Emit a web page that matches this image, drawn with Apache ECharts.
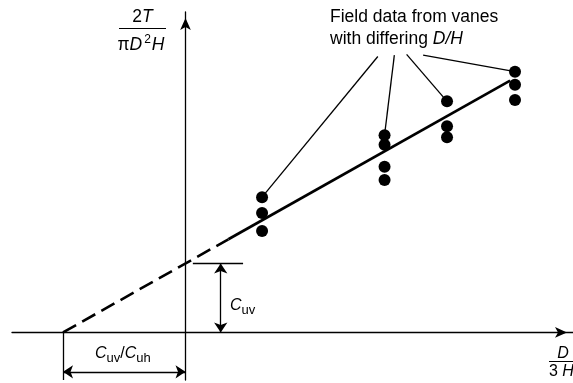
<!DOCTYPE html>
<html>
<head>
<meta charset="utf-8">
<script src="https://cdn.jsdelivr.net/npm/echarts@6/dist/echarts.min.js"></script>
<style>
html,body{margin:0;padding:0;background:#fff;}
#chart{width:573px;height:383px;}
</style>
</head>
<body>
<div id="chart"></div>
<script>
// Vane shear test: normalised torque 2T/(πD²H) against D/3H

// Fitted line: intercept on the torque axis (C_uv) and on the D/3H axis (C_uv/C_uh)
const cuv = 1.0;
const cuvOverCuh = 2.0;
// Fitted line drawn through these points (dashed extrapolation, then solid)
const fitX = [-2.0, 0.7, 5.3];
const fitY = [0.0, 1.35, 3.65];

// Field data, one group of vanes per D/H ratio
const groupX = [1.25, 3.25, 4.27, 5.38];
const groupY = [
  [1.96, 1.73, 1.47],
  [2.86, 2.72, 2.40, 2.21],
  [3.35, 2.99, 2.83],
  [3.78, 3.59, 3.37]
];

// Where the callout lines leave the annotation text
const calloutX = [3.14, 3.41, 3.61, 3.88];
const calloutY = [4.00, 4.02, 4.03, 4.02];

const FONT = '"Liberation Sans", Arial, Helvetica, sans-serif';
const INK = '#000';

const points = [];
groupX.forEach((x, i) => groupY[i].forEach(y => points.push([x, y])));

const callouts = groupX.map((x, i) => ({
  coords: [[calloutX[i], calloutY[i]], [x, Math.max.apply(null, groupY[i])]]
}));

const yBottom = -0.69;
const dimTicks = [
  { coords: [[0.12, cuv], [0.94, cuv]] },
  { coords: [[-cuvOverCuh, 0], [-cuvOverCuh, yBottom]] }
];
const dimArrows = [
  { coords: [[0.575, 0], [0.575, cuv]] },
  { coords: [[-cuvOverCuh, -0.572], [0, -0.572]] }
];

function rich(size) {
  return {
    n: { fontFamily: FONT, fontSize: size, fill: INK, lineHeight: 22 },
    i: { fontFamily: FONT, fontSize: size, fontStyle: 'italic', fill: INK, lineHeight: 22 },
    sub: { fontFamily: FONT, fontSize: 13, fill: INK, lineHeight: 13, verticalAlign: 'bottom' },
    sup: { fontFamily: FONT, fontSize: 12, fill: INK, lineHeight: 10, verticalAlign: 'top', padding: [0, 1, 0, 2] }
  };
}

const chart = echarts.init(document.getElementById('chart'), null, { renderer: 'canvas' });

const axisCommon = {
  type: 'value',
  axisTick: { show: false },
  axisLabel: { show: false },
  splitLine: { show: false }
};

chart.setOption({
  animation: false,
  backgroundColor: '#fff',
  grid: { left: 12, right: 0, top: 12, bottom: 3 },
  xAxis: Object.assign({}, axisCommon, {
    min: -2.833, max: 6.327,
    axisLine: {
      onZero: true, symbol: ['none', 'arrow'], symbolSize: [8, 12], symbolOffset: [0, -6],
      lineStyle: { color: INK, width: 1.3 }
    }
  }),
  yAxis: Object.assign({}, axisCommon, {
    min: yBottom, max: 4.645,
    axisLine: {
      onZero: true, symbol: ['none', 'arrow'], symbolSize: [8, 12], symbolOffset: [0, -6],
      lineStyle: { color: INK, width: 1.3 }
    }
  }),
  series: [
    {
      type: 'line', data: [[fitX[0], fitY[0]], [fitX[1], fitY[1]]],
      symbol: 'none', lineStyle: { color: INK, width: 2.6, type: [15, 7] }, z: 3
    },
    {
      type: 'line', data: [[fitX[1], fitY[1]], [fitX[2], fitY[2]]],
      symbol: 'none', lineStyle: { color: INK, width: 2.7 }, z: 3
    },
    {
      type: 'lines', coordinateSystem: 'cartesian2d', data: callouts,
      symbol: 'none', lineStyle: { color: INK, width: 1.3, opacity: 1 }, z: 2
    },
    {
      type: 'lines', coordinateSystem: 'cartesian2d', data: dimTicks,
      symbol: 'none', lineStyle: { color: INK, width: 1.3, opacity: 1 }, z: 2
    },
    {
      type: 'lines', coordinateSystem: 'cartesian2d', data: dimArrows,
      symbol: ['arrow', 'arrow'], symbolSize: 10,
      lineStyle: { color: INK, width: 1.3, opacity: 1 }, itemStyle: { color: INK }, z: 2
    },
    {
      type: 'scatter', data: points, symbol: 'circle', symbolSize: 12,
      itemStyle: { color: INK, opacity: 1 }, z: 5
    }
  ],
  graphic: [
    {
      type: 'text', x: 330, y: 6,
      style: {
        text: '{n|Field data from vanes}\n{n|with differing }{i|D/H}',
        rich: rich(17.5), align: 'left', verticalAlign: 'top'
      }
    },
    {
      type: 'text', x: 142.5, y: 17,
      style: { text: '{n|2}{i|T}', rich: rich(17.5), align: 'center', verticalAlign: 'middle' }
    },
    {
      type: 'line', shape: { x1: 119, y1: 28.5, x2: 166, y2: 28.5 },
      style: { stroke: INK, lineWidth: 1 }
    },
    {
      type: 'text', x: 141, y: 45,
      style: { text: '{n|π}{i|D}{sup|2}{i|H}', rich: rich(17.5), align: 'center', verticalAlign: 'middle' }
    },
    {
      type: 'text', x: 563, y: 354,
      style: { text: '{i|D}', rich: rich(16), align: 'center', verticalAlign: 'middle' }
    },
    {
      type: 'line', shape: { x1: 549, y1: 361.5, x2: 573, y2: 361.5 },
      style: { stroke: INK, lineWidth: 1 }
    },
    {
      type: 'text', x: 549, y: 372,
      style: { text: '{n|3 }{i|H}', rich: rich(16), align: 'left', verticalAlign: 'middle' }
    },
    {
      type: 'text', x: 230, y: 306,
      style: { text: '{i|C}{sub|uv}', rich: rich(16), align: 'left', verticalAlign: 'middle' }
    },
    {
      type: 'text', x: 95, y: 354,
      style: { text: '{i|C}{sub|uv}{n|/}{i|C}{sub|uh}', rich: rich(16), align: 'left', verticalAlign: 'middle' }
    }
  ]
});
</script>
</body>
</html>
